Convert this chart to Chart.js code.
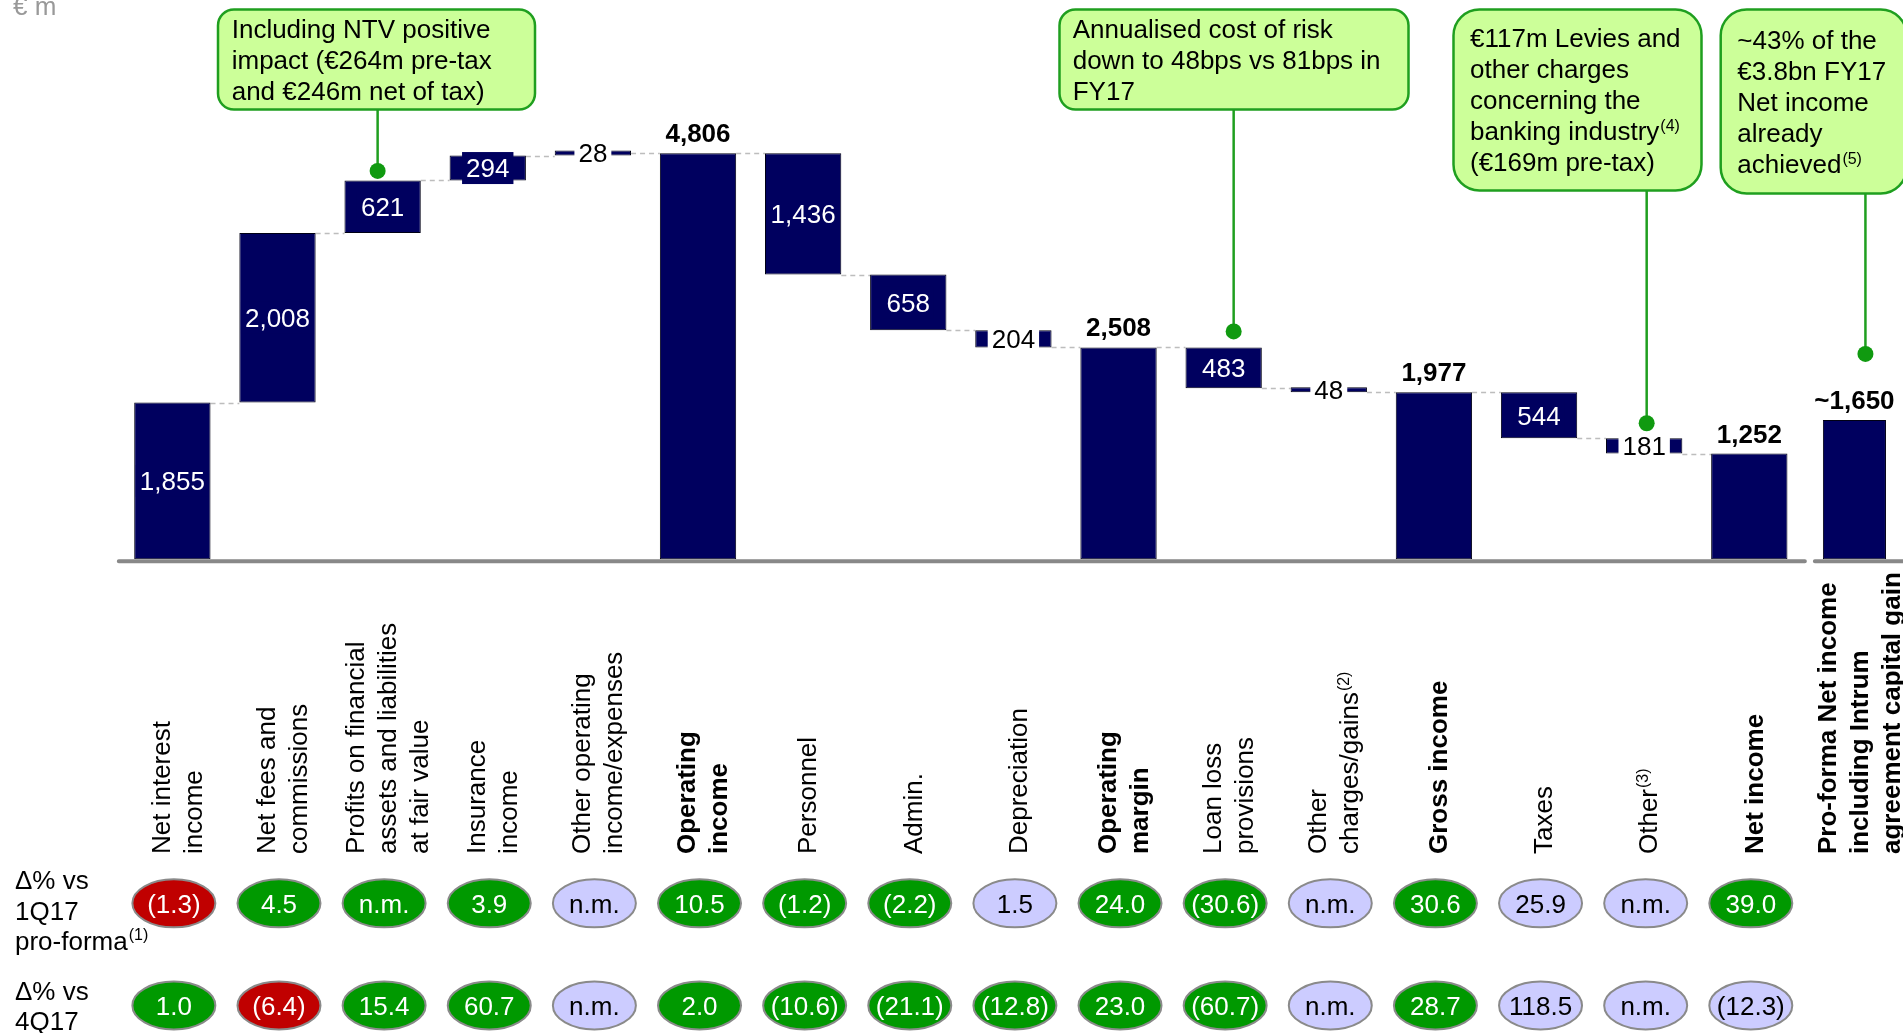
<!DOCTYPE html>
<html>
<head>
<meta charset="utf-8">
<title>1Q18 income statement</title>
<script src="https://cdn.jsdelivr.net/npm/chart.js@4.4.1/dist/chart.umd.min.js"></script>
<style>
  html, body { margin: 0; padding: 0; background: #fff; overflow: hidden; }
  #wrap { position: relative; width: 1910px; height: 1033px; }
</style>
</head>
<body>
<div id="wrap"><canvas id="pnl"></canvas></div>
<script>
// P&L bridge, € m. Steps add up into the bold totals.
const categories = [
  ["Net interest", "income"],
  ["Net fees and", "commissions"],
  ["Profits on financial", "assets and liabilities", "at fair value"],
  ["Insurance", "income"],
  ["Other operating", "income/expenses"],
  ["Operating", "income"],
  ["Personnel"],
  ["Admin."],
  ["Depreciation"],
  ["Operating", "margin"],
  ["Loan loss", "provisions"],
  ["Other", "charges/gains^(2)"],
  ["Gross income"],
  ["Taxes"],
  ["Other^(3)"],
  ["Net income"],
  ["Pro-forma Net income", "including Intrum", "agreement capital gain"]
];
const values = [1855, 2008, 621, 294, 28, 4806, -1436, -658, -204, 2508, -483, -48, 1977, -544, -181, 1252, 1650];
const totals = [false, false, false, false, false, true, false, false, false, true, false, false, true, false, false, true, true];
const approx = [false, false, false, false, false, false, false, false, false, false, false, false, false, false, false, false, true];

// Δ% rows; null = n.m.  tone: g = green, r = red, n = neutral
const deltaVs1Q17 = [-1.3, 4.5, null, 3.9, null, 10.5, -1.2, -2.2, 1.5, 24.0, -30.6, null, 30.6, 25.9, null, 39.0];
const tone1Q17 = ["r", "g", "g", "g", "n", "g", "g", "g", "n", "g", "g", "n", "g", "n", "n", "g"];
const deltaVs4Q17 = [1.0, -6.4, 15.4, 60.7, null, 2.0, -10.6, -21.1, -12.8, 23.0, -60.7, null, 28.7, 118.5, null, -12.3];
const tone4Q17 = ["g", "r", "g", "g", "n", "g", "g", "g", "g", "g", "g", "n", "g", "n", "n", "n"];

const notes = [
  { at: 2, lines: ["Including NTV positive", "impact (€264m pre-tax", "and €246m net of tax)"] },
  { at: 10, lines: ["Annualised cost of risk", "down to 48bps vs 81bps in", "FY17"] },
  { at: 14, lines: ["€117m Levies and", "other charges", "concerning the", "banking industry^(4)", "(€169m pre-tax)"] },
  { at: 16, lines: ["~43% of the", "€3.8bn FY17", "Net income", "already", "achieved^(5)"] }
];

const NAVY = "#00005f";
const FONT = '"Liberation Sans", Arial, sans-serif';
const TONES = { g: "#009900", r: "#c00000", n: "#ccccff" };
const proForma = categories.length - 1;

// floating [from, to] per bar from the running total
const ranges = [];
let level = 0;
values.forEach((v, i) => {
  if (totals[i]) {
    ranges.push([0, v]);
    level = v;
  } else {
    ranges.push([level, level + v]);
    level += v;
  }
});

function fmtNum(v) {
  return Math.abs(v).toLocaleString("en-US");
}
function fmtDelta(v) {
  if (v === null) return "n.m.";
  return v < 0 ? "(" + Math.abs(v).toFixed(1) + ")" : v.toFixed(1);
}

// text with an optional ^superscript tail
function rich(ctx, text, x, y, size, bold, color, align) {
  const parts = text.split("^");
  const weight = bold ? "bold " : "";
  const supSize = Math.round(size * 0.62);
  ctx.font = weight + size + "px " + FONT;
  const mw = ctx.measureText(parts[0]).width;
  let sw = 0;
  if (parts[1]) {
    ctx.font = supSize + "px " + FONT;
    sw = ctx.measureText(parts[1]).width + 1;
  }
  const sx = align === "center" ? x - (mw + sw) / 2 : x;
  ctx.fillStyle = color;
  ctx.textAlign = "left";
  ctx.textBaseline = "alphabetic";
  ctx.font = weight + size + "px " + FONT;
  ctx.fillText(parts[0], sx, y);
  if (parts[1]) {
    ctx.font = supSize + "px " + FONT;
    ctx.fillText(parts[1], sx + mw + 1, y - size * 0.36);
  }
  return mw + sw;
}

function roundBox(ctx, x, y, w, h, r) {
  ctx.beginPath();
  ctx.moveTo(x + r, y);
  ctx.lineTo(x + w - r, y);
  ctx.arcTo(x + w, y, x + w, y + r, r);
  ctx.lineTo(x + w, y + h - r);
  ctx.arcTo(x + w, y + h, x + w - r, y + h, r);
  ctx.lineTo(x + r, y + h);
  ctx.arcTo(x, y + h, x, y + h - r, r);
  ctx.lineTo(x, y + r);
  ctx.arcTo(x, y, x + r, y, r);
  ctx.closePath();
}

function barAt(chart, i) {
  const el = chart.getDatasetMeta(i === proForma ? 1 : 0).data[i];
  return {
    x: el.x,
    w: el.width,
    top: Math.min(el.y, el.base),
    bottom: Math.max(el.y, el.base)
  };
}

// callout geometry, in canvas pixels
const noteBoxes = [
  { x: 218, y: 9.5, w: 317, h: 100, r: 16, pad: 13.7, first: 28, dx: -5, gap: 9.5 },
  { x: 1059.5, y: 9.5, w: 349, h: 100, r: 16, pad: 13.2, first: 28, dx: 10, gap: 16 },
  { x: 1453.5, y: 9.5, w: 248, h: 181, r: 26, pad: 16.5, first: 37, dx: 2.5, gap: 15 },
  { x: 1720.7, y: 9.5, w: 186, h: 184, r: 26, pad: 16.6, first: 39, dx: 11, gap: 66 }
];

const decor = {
  id: "decor",
  beforeDatasetsDraw(chart) {
    const ctx = chart.ctx;
    const ys = chart.scales.y;
    ctx.save();
    ctx.strokeStyle = "#bdbdbd";
    ctx.lineWidth = 1.5;
    ctx.setLineDash([5, 4]);
    for (let i = 0; i < proForma - 1; i++) {
      const a = barAt(chart, i);
      const b = barAt(chart, i + 1);
      const y = Math.round(ys.getPixelForValue(ranges[i][1])) + 0.5;
      ctx.beginPath();
      ctx.moveTo(a.x + a.w / 2, y);
      ctx.lineTo(b.x - b.w / 2, y);
      ctx.stroke();
    }
    ctx.restore();
  },
  afterDatasetsDraw(chart) {
    const ctx = chart.ctx;
    const xs = chart.scales.x;
    const ys = chart.scales.y;
    const half = (xs.getPixelForValue(1) - xs.getPixelForValue(0)) / 2;
    ctx.save();

    // baseline, split before the pro-forma column
    const y0 = ys.getPixelForValue(0) + 2;
    ctx.strokeStyle = "#888888";
    ctx.lineWidth = 4;
    ctx.lineCap = "round";
    ctx.beginPath();
    ctx.moveTo(xs.getPixelForValue(0) - half - 1, y0);
    ctx.lineTo(xs.getPixelForValue(proForma - 1) + half + 3, y0);
    ctx.moveTo(xs.getPixelForValue(proForma) - half + 13, y0);
    ctx.lineTo(chart.width + 5, y0);
    ctx.stroke();

    // value labels
    values.forEach((v, i) => {
      const b = barAt(chart, i);
      const txt = (approx[i] ? "~" : "") + fmtNum(v);
      const cy = (b.top + b.bottom) / 2;
      if (totals[i]) {
        rich(ctx, txt, b.x, b.top - 11, 26, true, "#000", "center");
        return;
      }
      ctx.font = "26px " + FONT;
      const tw = ctx.measureText(txt).width;
      if (Math.abs(v) < 250) {
        ctx.fillStyle = "#ffffff";
        ctx.fillRect(b.x - tw / 2 - 4, cy - 15, tw + 8, 30);
        rich(ctx, txt, b.x, cy + 9.3, 26, false, "#000", "center");
      } else {
        ctx.fillStyle = NAVY;
        ctx.fillRect(b.x - tw / 2 - 4, cy - 16, tw + 8, 32);
        rich(ctx, txt, b.x, cy + 9.3, 26, false, "#ffffff", "center");
      }
    });

    // callouts
    notes.forEach((note, k) => {
      const box = noteBoxes[k];
      const b = barAt(chart, note.at);
      const lx = b.x + box.dx;
      const dotY = b.top - box.gap;
      ctx.strokeStyle = "#1f9f1f";
      ctx.lineWidth = 2.5;
      ctx.beginPath();
      ctx.moveTo(lx, box.y + box.h);
      ctx.lineTo(lx, dotY);
      ctx.stroke();
      ctx.fillStyle = "#109a10";
      ctx.beginPath();
      ctx.arc(lx, dotY, 8, 0, Math.PI * 2);
      ctx.fill();
      roundBox(ctx, box.x, box.y, box.w, box.h, box.r);
      ctx.fillStyle = "#ccff99";
      ctx.fill();
      ctx.stroke();
      note.lines.forEach((line, j) => {
        rich(ctx, line, box.x + box.pad, box.y + box.first + j * 31.2, 26, false, "#000", "left");
      });
    });
    ctx.restore();
  },
  afterDraw(chart) {
    const ctx = chart.ctx;
    const xs = chart.scales.x;
    ctx.save();

    rich(ctx, "€ m", 13, 15, 26, false, "#999999", "left");

    // rotated category names, read bottom to top
    categories.forEach((lines, i) => {
      const cx = xs.getPixelForValue(i);
      const n = lines.length;
      lines.forEach((line, k) => {
        const bx = cx + 4 + (k - (n - 1) / 2) * 32 + 9.3;
        ctx.save();
        ctx.translate(bx, 854);
        ctx.rotate(-Math.PI / 2);
        rich(ctx, line, 0, 0, 26, totals[i], "#000", "left");
        ctx.restore();
      });
    });

    // Δ% rows
    const heads = [
      { y: 889.3, lines: ["Δ% vs", "1Q17", "pro-forma^(1)"] },
      { y: 999.5, lines: ["Δ% vs", "4Q17"] }
    ];
    heads.forEach(h => h.lines.forEach((l, j) => rich(ctx, l, 15, h.y + j * 30.2, 26, false, "#000", "left")));

    const rows = [
      { cy: 903.3, vals: deltaVs1Q17, tones: tone1Q17 },
      { cy: 1005.5, vals: deltaVs4Q17, tones: tone4Q17 }
    ];
    rows.forEach(row => {
      row.vals.forEach((v, i) => {
        const cx = xs.getPixelForValue(i) + 1.5;
        const tone = row.tones[i];
        ctx.beginPath();
        ctx.ellipse(cx, row.cy, 41.5, 24, 0, 0, Math.PI * 2);
        ctx.fillStyle = TONES[tone];
        ctx.fill();
        ctx.lineWidth = 2;
        ctx.strokeStyle = "#8a8a8a";
        ctx.stroke();
        rich(ctx, fmtDelta(v), cx, row.cy + 9.3, 26, false, tone === "n" ? "#000" : "#ffffff", "center");
      });
    });
    ctx.restore();
  }
};

const barStyle = {
  backgroundColor: NAVY,
  borderColor: "#000014",
  borderWidth: 1,
  borderSkipped: false,
  minBarLength: 5,
  categoryPercentage: 1,
  grouped: false
};

new Chart(document.getElementById("pnl"), {
  type: "bar",
  data: {
    labels: categories.map(c => c.join(" ")),
    datasets: [
      Object.assign({ data: ranges.map((r, i) => (i === proForma ? null : r)), barPercentage: 0.726 }, barStyle),
      Object.assign({ data: ranges.map((r, i) => (i === proForma ? r : null)), barPercentage: 0.6 }, barStyle)
    ]
  },
  options: {
    responsive: true,
    maintainAspectRatio: false,
    animation: false,
    layout: { padding: { left: 119.8, right: 3, top: 0, bottom: 473.7 } },
    plugins: { legend: { display: false }, tooltip: { enabled: false } },
    scales: {
      x: { display: false },
      y: { display: false, min: 0, max: 6620 }
    }
  },
  plugins: [decor]
});
</script>
</body>
</html>
